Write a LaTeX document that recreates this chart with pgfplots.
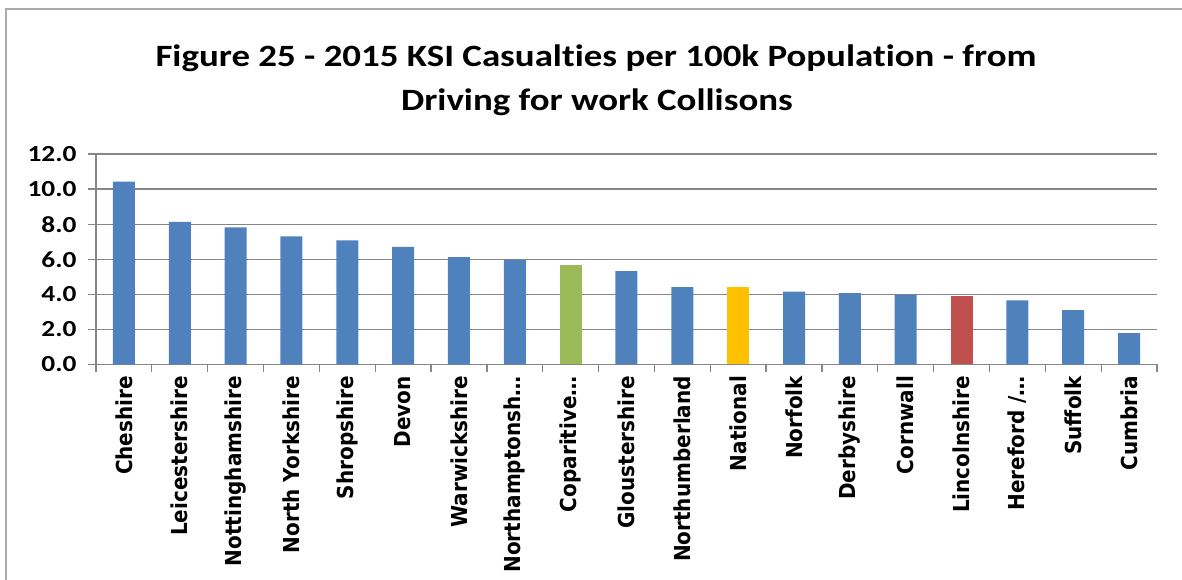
\documentclass[border=0pt]{standalone}
\usepackage{pgfplots}
\pgfplotsset{compat=1.18}
\usepackage{fontspec}
\setmainfont{Carlito}[Ligatures=NoCommon]
\newfontfamily\widefont{Carlito}[FakeStretch=1.19, Ligatures=NoCommon]
\newfontfamily\dvs{DejaVu Sans}
\definecolor{axgray}{HTML}{868686}
\definecolor{bblue}{HTML}{4F81BD}
\definecolor{bgreen}{HTML}{9BBB59}
\definecolor{byellow}{HTML}{FFC000}
\definecolor{bred}{HTML}{C0504D}
\newcommand{\xl}[1]{\scalebox{1}[1.1]{#1}}
\begin{document}
\begin{tikzpicture}
\useasboundingbox (0pt,0pt) rectangle (1182pt,580pt);
\draw[draw=axgray!70, line width=1.5pt] (6pt,-20pt) -- (6pt,571pt) -- (1200pt,571pt);
\node[font=\widefont\bfseries\fontsize{31}{44}\selectfont, anchor=base] at (596pt,513pt) {Figure 25 - 2015 KSI Casualties per 100k Population - from};
\node[font=\widefont\bfseries\fontsize{31}{44}\selectfont, anchor=base] at (597pt,469pt) {Driving for work Collisons};
\begin{axis}[
  at={(96pt,215.5pt)}, anchor=south west,
  scale only axis, width=1061pt, height=210.5pt,
  xmin=-0.5, xmax=18.5, ymin=0, ymax=12,
  axis x line=bottom, axis y line=left,
  axis line style={-, draw=axgray, line width=1.3pt},
  ybar, bar width=22pt, bar shift=0pt,
  xtick={0,...,18},
  xticklabels={\xl{Cheshire},\xl{Leicestershire},\xl{Nottinghamshire},\xl{North Yorkshire},\xl{Shropshire},\xl{Devon},\xl{Warwickshire},\xl{Northamptonsh…},\xl{Coparitive…},\xl{Gloustershire},\xl{Northumberland},\xl{National},\xl{Norfolk},\xl{Derbyshire},\xl{Cornwall},\xl{Lincolnshire},\xl{Hereford /…},\xl{Suffolk},\xl{Cumbria}},
  minor xtick={-0.5,0.5,...,18.5},
  major x tick style={draw=none},
  minor x tick style={draw=axgray, line width=1.3pt},
  minor tick length=8pt,
  ytick={0,2,...,12},
  ytick style={draw=axgray, line width=1.3pt},
  major tick length=8pt,
  tick align=outside,
  ymajorgrids,
  major grid style={draw=axgray, line width=1.3pt},
  /pgf/number format/assume math mode=true,
  /pgf/number format/fixed,
  /pgf/number format/fixed zerofill,
  /pgf/number format/precision=1,
  yticklabel style={font=\widefont\bfseries\fontsize{23}{23}\selectfont, xshift=-8pt},
  xticklabel style={rotate=90, anchor=east, font=\dvs\bfseries\fontsize{20}{20}\selectfont, yshift=0pt},
]
\addplot[fill=bblue, draw=none] coordinates {(0,10.43) (1,8.13) (2,7.81) (3,7.30) (4,7.07) (5,6.71) (6,6.12) (7,5.97) (9,5.32) (10,4.41) (12,4.16) (13,4.07) (14,3.99) (16,3.65) (17,3.10) (18,1.79)};
\addplot[fill=bgreen, draw=none] coordinates {(8,5.66)};
\addplot[fill=byellow, draw=none] coordinates {(11,4.41)};
\addplot[fill=bred, draw=none] coordinates {(15,3.91)};
\end{axis}
\end{tikzpicture}
\end{document}
